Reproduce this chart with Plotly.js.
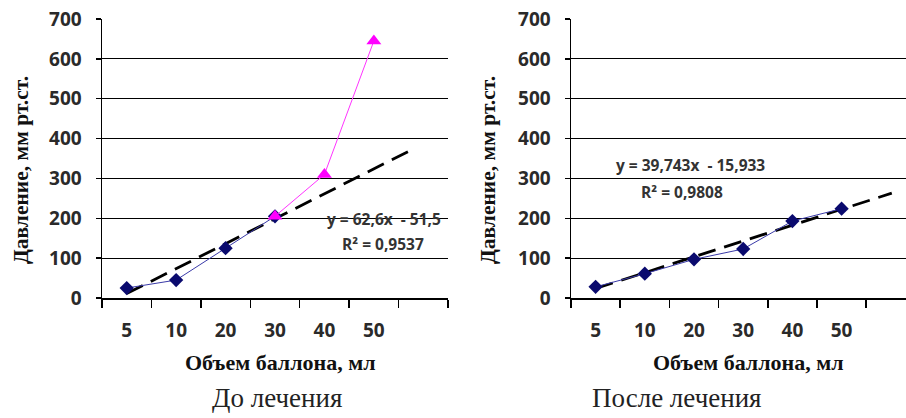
<!DOCTYPE html>
<html><head><meta charset="utf-8">
<script src="https://cdn.plot.ly/plotly-3.0.1.min.js"></script>
<style>html,body{margin:0;padding:0;background:#fff}#chart{width:906px;height:418px}</style>
</head><body><div id="chart"></div>
<script>
// Data
const volumeLabels = ["5", "10", "20", "30", "40", "50"];
const catIndex = [1, 2, 3, 4, 5, 6];
const beforeBlueX = [1, 2, 3, 4];
const beforeBlueY = [25, 45, 125, 205];
const beforeMagentaX = [4, 5, 6];
const beforeMagentaY = [205, 310, 645];
const afterY = [28, 61, 97, 123, 193, 224];
const beforeTrend = {slope: 62.6, intercept: -51.5, x0: 1, x1: 6.85, eq: "y = 62,6x  - 51,5", r2: "R² = 0,9537"};
const afterTrend = {slope: 39.743, intercept: -15.933, x0: 1, x1: 7.02, eq: "y = 39,743x  - 15,933", r2: "R² = 0,9808"};
const yTicks = [0, 100, 200, 300, 400, 500, 600, 700];
const boundaries = [0.5, 1.5, 2.5, 3.5, 4.5, 5.5, 6.5, 7.5];

const W = 906, H = 418;
const px = v => v / W, py = v => 1 - v / H;

function trendXY(t) {
  return {x: [t.x0, t.x1], y: [t.slope * t.x0 + t.intercept, t.slope * t.x1 + t.intercept]};
}
const tb = trendXY(beforeTrend), ta = trendXY(afterTrend);

const dashLine = {color: "#000", width: 2.8, dash: "18px,9px"};
const traces = [
  {x: tb.x, y: tb.y, mode: "lines", line: dashLine, xaxis: "x", yaxis: "y", hoverinfo: "skip"},
  {x: beforeBlueX, y: beforeBlueY, mode: "lines+markers", line: {color: "#3a3aa8", width: 1},
   marker: {symbol: "diamond", size: 11, color: "#0a0a6e"}, xaxis: "x", yaxis: "y"},
  {x: beforeMagentaX, y: beforeMagentaY, mode: "lines+markers", line: {color: "#ff33ff", width: 1},
   marker: {symbol: "triangle-up", size: 13, color: "#ff00ff"}, xaxis: "x", yaxis: "y"},
  {x: ta.x, y: ta.y, mode: "lines", line: dashLine, xaxis: "x2", yaxis: "y2", hoverinfo: "skip"},
  {x: catIndex, y: afterY, mode: "lines+markers", line: {color: "#3a3aa8", width: 1},
   marker: {symbol: "diamond", size: 11, color: "#0a0a6e"}, xaxis: "x2", yaxis: "y2"}
];

const sans = "'Open Sans', 'Liberation Sans', sans-serif";
const serif = "'Liberation Serif', 'Times New Roman', serif";
const tickFont = {family: sans, size: 19, color: "#2a2a2a", weight: "bold"};
function xAxis(domain, range, anchor) {
  return {domain: domain, range: range, anchor: anchor, showgrid: false, zeroline: false,
    showline: true, linecolor: "#000", linewidth: 1.5,
    tickmode: "array", tickvals: catIndex, ticktext: volumeLabels, ticks: "", ticklabelstandoff: 15,
    tickfont: tickFont,
    minor: {tickmode: "array", tickvals: boundaries, ticks: "outside", ticklen: 8, tickcolor: "#000", tickwidth: 1.5, showgrid: false}};
}
function yAxis(anchor) {
  return {domain: [py(298), py(19)], range: [0, 700], anchor: anchor,
    tickmode: "array", tickvals: yTicks, ticks: "outside", ticklen: 5, tickcolor: "#000", tickwidth: 1.5,
    showgrid: true, gridcolor: "#000", gridwidth: 1.2, zeroline: false,
    showline: true, linecolor: "#000", linewidth: 1.5,
    tickfont: tickFont, ticklabelstandoff: 10};
}

const eqFont = {family: sans, size: 15.5, color: "#333", weight: "bold"};
const yTitleFont = {family: serif, size: 21.5, color: "#111", weight: "bold"};
const xTitleFont = {family: serif, size: 22, color: "#111", weight: "bold"};
const capFont = {family: serif, size: 27, color: "#222"};

function ann(text, x, y, font, angle) {
  return {text: text, xref: "paper", yref: "paper", x: px(x), y: py(y), xanchor: "center", yanchor: "middle",
    showarrow: false, font: font, textangle: angle || 0};
}

const layout = {
  width: W, height: H, margin: {l: 0, r: 0, t: 0, b: 0}, showlegend: false,
  paper_bgcolor: "#fff", plot_bgcolor: "#fff",
  xaxis: xAxis([px(102), px(448)], [0.5, 7.5], "y"),
  yaxis: yAxis("x"),
  xaxis2: xAxis([px(571), 1], [0.5, 0.5 + (906 - 571) / 49.2], "y2"),
  yaxis2: yAxis("x2"),
  annotations: [
    ann(beforeTrend.eq, 384, 219, eqFont), ann(beforeTrend.r2, 383, 244, eqFont),
    ann(afterTrend.eq, 690, 165, eqFont), ann(afterTrend.r2, 682, 192, eqFont),
    ann("Давление, мм рт.ст.", 21, 170, yTitleFont, -90),
    ann("Давление, мм рт.ст.", 488, 170, yTitleFont, -90),
    ann("Объем баллона, мл", 280, 362, xTitleFont),
    ann("Объем баллона, мл", 748, 362, xTitleFont),
    ann("До лечения", 277, 398, capFont),
    ann("После лечения", 677, 398, capFont)
  ]
};

Plotly.newPlot("chart", traces, layout, {staticPlot: true, displayModeBar: false});
</script></body></html>
